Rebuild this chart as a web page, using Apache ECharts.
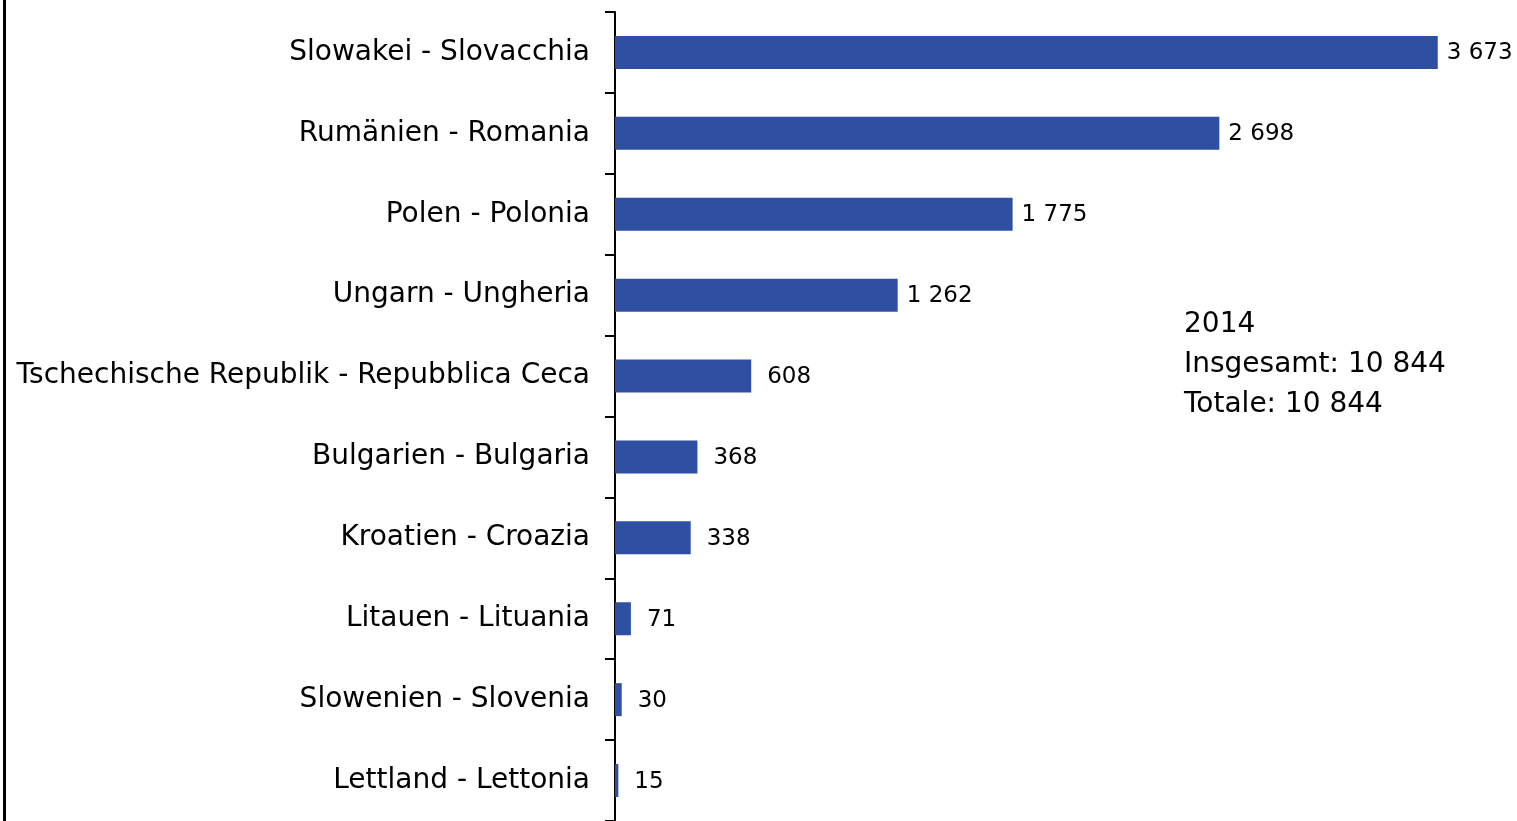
<!DOCTYPE html>
<html>
<head>
    <meta charset="utf-8">
    <title>Chart</title>
    <style>
        html, body { margin: 0; padding: 0; background: #fff; }
        #main { width: 1517px; height: 821px; }
    </style>
</head>
<body>
    <div id="main"></div>
    <script src="https://cdn.jsdelivr.net/npm/echarts@6/dist/echarts.min.js"></script>
    <script>
        // 数据
        var categories = ['Slowakei - Slovacchia', 'Rumänien - Romania', 'Polen - Polonia', 'Ungarn - Ungheria',
            'Tschechische Republik - Repubblica Ceca', 'Bulgarien - Bulgaria', 'Kroatien - Croazia',
            'Litauen - Lituania', 'Slowenien - Slovenia', 'Lettland - Lettonia'];
        var values = [3673, 2698, 1775, 1262, 608, 368, 338, 71, 30, 15];
        var noteLines = ['2014', 'Insgesamt: 10 844', 'Totale: 10 844'];

        var font = 'DejaVu Sans';
        function fmt(v) {
            return String(v).replace(/\B(?=(\d{3})+(?!\d))/g, ' ');
        }

        // 四位数的标签离柱子更近
        var barData = values.map(function (v) {
            return { value: v, label: { distance: v >= 1000 ? 9 : 16 } };
        });

        var myChart = echarts.init(document.getElementById('main'));
        var option = {
            animation: false,
            grid: { left: 615, top: 12, width: 896, height: 810 },
            xAxis: {
                type: 'value',
                min: 0,
                max: 4000,
                show: false
            },
            yAxis: {
                type: 'category',
                inverse: true,
                data: categories,
                axisLine: { show: true, lineStyle: { color: '#000', width: 2 } },
                axisTick: { show: true, length: 10, lineStyle: { color: '#000', width: 2 } },
                axisLabel: { color: '#000', fontFamily: font, fontSize: 28, margin: 25, padding: [4, 0, 0, 0] }
            },
            series: [{
                type: 'bar',
                data: barData,
                barWidth: 33,
                itemStyle: { color: '#2f4fa2' },
                label: {
                    show: true,
                    position: 'right',
                    offset: [0, 1],
                    color: '#000',
                    fontFamily: font,
                    fontSize: 23,
                    formatter: function (p) { return fmt(p.value); }
                }
            }],
            graphic: [
                { type: 'rect', shape: { x: 3, y: 0, width: 3, height: 821 }, style: { fill: '#000' } },
                {
                    type: 'text', left: 1184, top: 305,
                    style: { text: noteLines.join('\n'), font: '28px "' + font + '"', lineHeight: 40, fill: '#000' }
                }
            ]
        };
        myChart.setOption(option);
    </script>
</body>
</html>
